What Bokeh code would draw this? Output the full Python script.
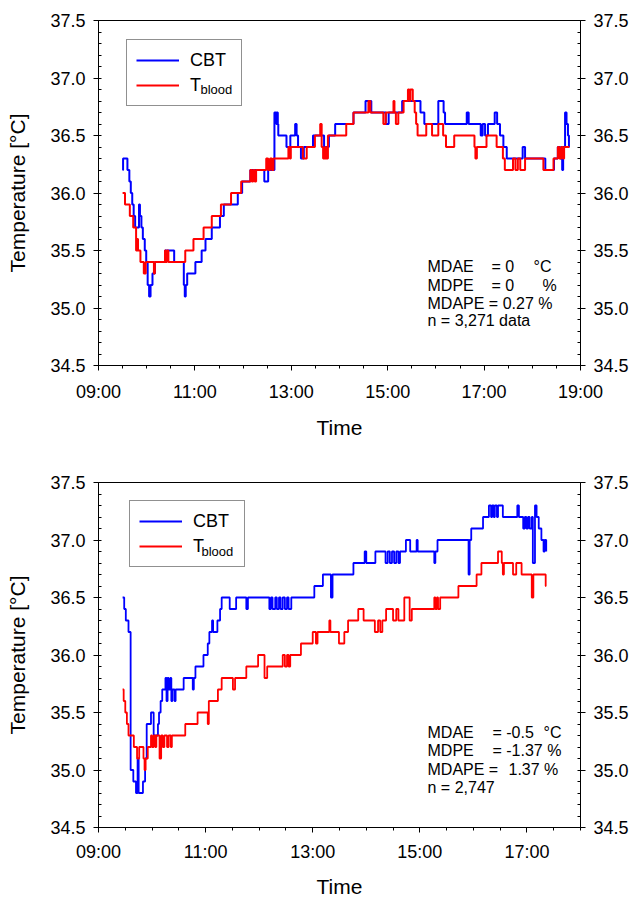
import numpy as np
from bokeh.plotting import figure
from bokeh.models import LinearAxis, FixedTicker, Range1d, Label, Legend, LegendItem
from bokeh.layouts import column
from bokeh.embed import file_html
from bokeh.resources import INLINE

# ---------------- data (time in decimal hours, temperature in °C) ----------------
# Panel A
a_cbt_t = [9.50, 9.51, 9.60, 9.64, 9.67, 9.70, 9.73, 9.76, 9.84, 9.86,
           9.89, 9.92, 9.96, 9.99, 10.02, 10.05, 10.08, 10.12, 10.17, 10.38,
           10.57, 10.77, 10.79, 10.81, 10.84, 11.01, 11.14, 11.22, 11.35, 11.52,
           11.60, 11.89, 11.98, 12.15, 12.44, 12.52, 12.65, 12.69, 12.70, 12.72,
           12.73, 12.90, 12.98, 13.08, 13.11, 13.14, 13.20, 13.26, 13.45, 13.68,
           13.78, 13.91, 14.29, 14.54, 14.66, 14.96, 15.02, 15.30, 15.68, 15.76,
           16.05, 16.16, 16.19, 16.64, 16.68, 16.93, 16.97, 17.02, 17.08, 17.22,
           17.27, 17.33, 17.40, 17.47, 17.80, 17.85, 18.27, 18.45, 18.53, 18.58,
           18.62, 18.64, 18.68, 18.71, 18.74, 18.76, 18.77]
a_cbt_v = [36.2, 36.3, 36.2, 36.1, 36.0, 35.9, 35.8, 35.7, 35.9, 35.8,
           35.7, 35.6, 35.5, 35.4, 35.2, 35.1, 35.2, 35.3, 35.4, 35.5,
           35.4, 35.2, 35.1, 35.2, 35.3, 35.4, 35.5, 35.6, 35.7, 35.8,
           35.9, 36.0, 36.1, 36.2, 36.1, 36.2, 36.7, 36.6, 36.7, 36.6,
           36.5, 36.4, 36.5, 36.6, 36.5, 36.4, 36.3, 36.4, 36.5, 36.4,
           36.5, 36.6, 36.7, 36.8, 36.7, 36.6, 36.7, 36.8, 36.7, 36.6,
           36.8, 36.7, 36.6, 36.7, 36.6, 36.5, 36.6, 36.5, 36.6, 36.7,
           36.6, 36.5, 36.4, 36.3, 36.4, 36.3, 36.2, 36.3, 36.4, 36.3,
           36.2, 36.4, 36.7, 36.6, 36.5, 36.4, 36.4]
a_bld_t = [9.50, 9.55, 9.65, 9.72, 9.78, 9.80, 9.82, 9.87, 9.94, 9.98,
           10.15, 10.17, 10.38, 10.40, 10.42, 10.45, 10.80, 10.97, 11.18, 11.35,
           11.54, 11.75, 11.96, 12.15, 12.18, 12.21, 12.24, 12.27, 12.48, 12.52,
           12.56, 12.60, 12.63, 12.94, 12.97, 12.99, 13.24, 13.32, 13.49, 13.60,
           13.63, 13.66, 13.70, 13.72, 13.76, 14.14, 14.29, 14.60, 14.64, 14.91,
           14.96, 15.12, 15.14, 15.17, 15.22, 15.33, 15.42, 15.45, 15.47, 15.52,
           15.56, 15.59, 15.62, 15.80, 15.92, 16.05, 16.15, 16.21, 16.38, 16.80,
           16.82, 16.85, 17.05, 17.26, 17.39, 17.43, 17.60, 17.65, 17.70, 17.75,
           17.85, 18.23, 18.44, 18.53, 18.56, 18.60, 18.63, 18.66, 18.77]
a_bld_v = [36.0, 35.9, 35.8, 35.7, 35.5, 35.6, 35.5, 35.4, 35.3, 35.4,
           35.3, 35.4, 35.5, 35.4, 35.5, 35.4, 35.5, 35.6, 35.7, 35.8,
           35.9, 36.0, 36.1, 36.2, 36.1, 36.2, 36.1, 36.2, 36.3, 36.2,
           36.3, 36.2, 36.3, 36.4, 36.3, 36.4, 36.3, 36.4, 36.5, 36.6,
           36.4, 36.3, 36.4, 36.3, 36.5, 36.6, 36.7, 36.8, 36.7, 36.6,
           36.7, 36.8, 36.7, 36.6, 36.7, 36.8, 36.9, 36.8, 36.9, 36.8,
           36.7, 36.6, 36.5, 36.6, 36.5, 36.6, 36.5, 36.4, 36.5, 36.4,
           36.3, 36.4, 36.5, 36.4, 36.3, 36.2, 36.3, 36.2, 36.3, 36.2,
           36.3, 36.2, 36.3, 36.4, 36.3, 36.4, 36.3, 36.4, 36.4]

# Panel B
b_cbt_t = [9.45, 9.48, 9.51, 9.56, 9.60, 9.65, 9.70, 9.73, 9.75, 9.83,
           9.87, 9.90, 9.98, 10.03, 10.11, 10.13, 10.16, 10.19, 10.25, 10.27,
           10.29, 10.31, 10.34, 10.36, 10.38, 10.42, 10.44, 10.59, 10.76, 10.78,
           10.81, 10.96, 11.04, 11.07, 11.12, 11.14, 11.22, 11.27, 11.30, 11.45,
           11.57, 11.76, 11.79, 12.19, 12.22, 12.25, 12.30, 12.33, 12.37, 12.40,
           12.44, 12.48, 12.52, 12.55, 12.60, 13.03, 13.19, 13.34, 13.37, 13.76,
           13.97, 14.00, 14.17, 14.36, 14.40, 14.44, 14.48, 14.52, 14.56, 14.60,
           14.63, 14.74, 14.82, 14.94, 14.96, 15.27, 15.29, 15.33, 15.91, 15.93,
           15.96, 16.18, 16.29, 16.33, 16.35, 16.38, 16.40, 16.44, 16.46, 16.55,
           16.82, 16.85, 16.93, 16.96, 16.99, 17.02, 17.05, 17.09, 17.11, 17.15,
           17.18, 17.22, 17.27, 17.31, 17.33, 17.36]
b_cbt_v = [36.5, 36.4, 36.3, 36.2, 35.0, 34.9, 34.8, 35.1, 34.8, 34.9,
           35.1, 35.4, 35.5, 35.3, 35.4, 35.5, 35.6, 35.7, 35.8, 35.6,
           35.8, 35.7, 35.8, 35.6, 35.7, 35.6, 35.7, 35.8, 35.7, 35.8,
           35.9, 36.0, 36.1, 36.2, 36.3, 36.2, 36.3, 36.4, 36.5, 36.4,
           36.5, 36.4, 36.5, 36.4, 36.5, 36.4, 36.5, 36.4, 36.5, 36.4,
           36.5, 36.4, 36.5, 36.4, 36.5, 36.6, 36.7, 36.5, 36.7, 36.8,
           36.9, 36.8, 36.9, 36.8, 36.9, 36.8, 36.9, 36.8, 36.9, 36.8,
           36.9, 37.0, 36.9, 37.0, 36.9, 36.8, 36.9, 37.0, 36.7, 37.0,
           37.1, 37.2, 37.3, 37.2, 37.3, 37.2, 37.3, 37.2, 37.3, 37.2,
           37.3, 37.2, 37.1, 37.2, 37.1, 37.2, 37.1, 37.2, 36.8, 37.3,
           37.2, 37.1, 37.0, 36.9, 37.0, 36.9]
b_bld_t = [9.45, 9.47, 9.50, 9.53, 9.56, 9.66, 9.72, 9.76, 9.84, 9.86,
           9.88, 9.92, 9.98, 10.00, 10.03, 10.06, 10.08, 10.14, 10.17, 10.20,
           10.23, 10.28, 10.31, 10.35, 10.37, 10.62, 10.85, 11.04, 11.06, 11.23,
           11.30, 11.51, 11.55, 11.76, 11.98, 12.10, 12.15, 12.44, 12.48, 12.52,
           12.55, 12.58, 12.78, 13.00, 13.06, 13.09, 13.31, 13.33, 13.49, 13.59,
           13.66, 13.85, 13.95, 14.16, 14.22, 14.26, 14.30, 14.37, 14.50, 14.56,
           14.60, 14.71, 14.81, 14.85, 14.88, 15.27, 15.29, 15.32, 15.34, 15.38,
           15.72, 16.06, 16.15, 16.46, 16.53, 16.55, 16.57, 16.74, 16.80, 16.90,
           17.09, 17.12, 17.35, 17.36]
b_bld_v = [35.7, 35.6, 35.5, 35.4, 35.3, 35.2, 35.1, 35.2, 35.1, 35.0,
           35.1, 35.2, 35.3, 35.2, 35.3, 35.2, 35.3, 35.1, 35.3, 35.2,
           35.3, 35.2, 35.3, 35.2, 35.3, 35.4, 35.5, 35.4, 35.6, 35.7,
           35.8, 35.7, 35.8, 35.9, 36.0, 35.8, 35.9, 36.0, 35.9, 36.0,
           35.9, 36.0, 36.1, 36.2, 36.1, 36.2, 36.3, 36.2, 36.1, 36.2,
           36.3, 36.4, 36.3, 36.2, 36.3, 36.2, 36.3, 36.4, 36.3, 36.4,
           36.3, 36.5, 36.3, 36.4, 36.4, 36.5, 36.4, 36.5, 36.4, 36.5,
           36.6, 36.7, 36.8, 36.9, 36.8, 36.7, 36.8, 36.7, 36.8, 36.7,
           36.5, 36.7, 36.6, 36.6]

# ticks
a_x_ticks = [9, 11, 13, 15, 17, 19]
a_x_labels = ["09:00", "11:00", "13:00", "15:00", "17:00", "19:00"]
b_x_ticks = [9, 11, 13, 15, 17]
b_x_labels = ["09:00", "11:00", "13:00", "15:00", "17:00"]
y_ticks = [34.5, 35.0, 35.5, 36.0, 36.5, 37.0, 37.5]
y_labels = ["34.5", "35.0", "35.5", "36.0", "36.5", "37.0", "37.5"]

series_names = ["CBT", "T"]
subscript = "blood"
a_stats = [["MDAE", "= 0", "°C"], ["MDPE", "= 0", "%"], ["MDAPE = 0.27 %"], ["n = 3,271 data"]]
b_stats = [["MDAE", "= -0.5", "°C"], ["MDPE", "= -1.37 %"], ["MDAPE =", "1.37 %"], ["n = 2,747"]]

# ---------------- layout / style ----------------
FONT = "Liberation Sans"
BLUE = "#0000FF"
RED = "#FF0000"
PAGE_W = 632
FRAME_L, FRAME_R = 98, 580           # frame within figure (px)


def make_panel(height, border_top, border_bottom, x0, x1, xticks, xlabels,
               cbt, bld, lw, stats, stat_x, stat_y, legend_pos, sub_pos,
               time_standoff, tick_standoff):
    p = figure(width=PAGE_W, height=height, output_backend="svg", toolbar_location=None,
               x_range=Range1d(x0, x1), y_range=Range1d(34.5, 37.5),
               min_border_left=FRAME_L, min_border_right=PAGE_W - FRAME_R,
               min_border_top=border_top, min_border_bottom=border_bottom,
               background_fill_color="white", border_fill_color="white")
    p.xgrid.visible = False
    p.ygrid.visible = False
    p.outline_line_color = "black"
    p.outline_line_width = 1
    p.outline_line_alpha = 1

    frame_h = height - border_top - border_bottom
    frame_w = FRAME_R - FRAME_L

    def dx(px):   # px from frame left -> data x
        return x0 + px / frame_w * (x1 - x0)

    def dy(py):   # px from frame top -> data y
        return 37.5 - py / frame_h * 3.0

    # x axis
    xminor = list(np.arange(x0, x1 + 0.001, 0.5))
    xa = p.xaxis[0]
    xa.ticker = FixedTicker(ticks=xticks, minor_ticks=xminor)
    xa.major_label_overrides = {float(t): l for t, l in zip(xticks, xlabels)}
    xa.axis_label = "Time"
    xa.major_tick_in = 0
    xa.major_tick_out = 5
    xa.minor_tick_in = 0
    xa.minor_tick_out = 3
    xa.major_label_standoff = tick_standoff
    xa.axis_label_standoff = time_standoff

    # y axes
    yminor = list(np.round(np.arange(34.5, 37.5001, 0.1), 2))
    ya = p.yaxis[0]
    ya.axis_label = "Temperature [°C]"
    ya.axis_label_standoff = 18
    yr = LinearAxis()
    p.add_layout(yr, "right")
    for ax in [ya, yr]:
        ax.ticker = FixedTicker(ticks=y_ticks, minor_ticks=yminor)
        ax.major_label_overrides = {float(t): l for t, l in zip(y_ticks, y_labels)}
        ax.major_tick_in = 0
        ax.major_tick_out = 5
        ax.minor_tick_in = 3
        ax.minor_tick_out = 0
        ax.major_label_standoff = 8

    for ax in [xa, ya, yr]:
        ax.axis_line_color = "black"
        ax.major_tick_line_color = "black"
        ax.minor_tick_line_color = "black"
        ax.major_label_text_font = FONT
        ax.major_label_text_font_size = "18px"
        ax.major_label_text_color = "black"
        ax.axis_label_text_font = FONT
        ax.axis_label_text_font_size = "21px"
        ax.axis_label_text_font_style = "normal"
        ax.axis_label_text_color = "black"

    r1 = p.step(x=cbt[0], y=cbt[1], mode="after", line_color=BLUE, line_width=lw)
    r2 = p.step(x=bld[0], y=bld[1], mode="after", line_color=RED, line_width=lw)

    # legend with transparent fill so that the subscript label shows through
    legend = Legend(items=[LegendItem(label=series_names[0], renderers=[r1]),
                           LegendItem(label=series_names[1], renderers=[r2])],
                    location=legend_pos, orientation="vertical",
                    padding=9, spacing=3, margin=0,
                    glyph_width=43, glyph_height=22, label_standoff=11,
                    label_width=42, label_height=22,
                    border_line_color="#222222", border_line_width=1.5,
                    background_fill_alpha=0,
                    label_text_font=FONT, label_text_font_size="18px",
                    label_text_color="black")
    p.add_layout(legend)
    p.add_layout(Label(x=dx(sub_pos[0]), y=dy(sub_pos[1]), text=subscript,
                       text_font=FONT, text_font_size="13px", text_color="black",
                       text_baseline="middle", text_align="left"))

    for row, xs, y in zip(stats, stat_x, stat_y):
        for txt, x in zip(row, xs):
            p.add_layout(Label(x=dx(x), y=dy(y), text=txt, text_font=FONT,
                               text_font_size="16px", text_color="black",
                               text_baseline="middle", text_align="left"))
    return p


p1 = make_panel(450, 20, 85, 9, 19, a_x_ticks, a_x_labels,
                (a_cbt_t, a_cbt_v), (a_bld_t, a_bld_v), 2,
                a_stats,
                [[329, 393, 435], [329, 393, 444], [329], [329]],
                [246, 265, 283, 300],
                (28, 259), (102, 69), 11, 11)
p2 = make_panel(450, 32, 71, 9, 18, b_x_ticks, b_x_labels,
                (b_cbt_t, b_cbt_v), (b_bld_t, b_bld_v), 1.8,
                b_stats,
                [[329, 394, 445], [329, 394], [329, 410], [329]],
                [251, 270, 289, 307],
                (31, 260), (103, 69), 10, 9)

layout = column(p1, p2)
open("out.html", "w").write(file_html(layout, INLINE))
